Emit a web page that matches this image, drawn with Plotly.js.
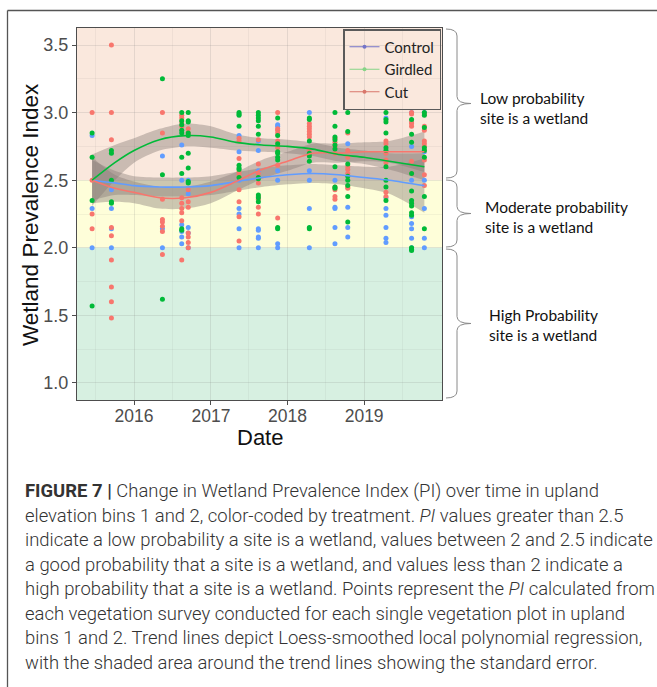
<!DOCTYPE html>
<html><head><meta charset="utf-8">
<script src="https://cdn.plot.ly/plotly-3.0.1.min.js"></script>
<style>html,body{margin:0;padding:0;background:#fff;}#chart{width:657px;height:687px;}</style>
</head><body><div id="chart"></div>
<script>
// ---------- data ----------
const surveyDates = ['2015-06-15','2015-09-15','2016-05-15','2016-08-15','2016-09-15','2017-05-15','2017-08-15',
  '2017-11-15','2018-04-15','2018-08-15','2018-10-15','2019-04-15','2019-08-15','2019-10-15'];

const controlPI = [
  [2.83,2.29,2.0],
  [2.43,2.29,2.14,2.0],
  [2.68,2.14,2.0],
  [2.76,2.50,2.17,2.12,2.08,2.03],
  [2.50,2.40,2.15,2.11,2.0],
  [2.83,2.71,2.50,2.29,2.25,2.14,2.0],
  [2.79,2.72,2.57,2.14,2.13,2.08,2.07,2.0],
  [2.91,2.90,2.57,2.50,2.03,2.0],
  [3.0,2.57,2.50,2.29,2.0],
  [2.50,2.30,2.29,2.15,2.03],
  [2.77,2.30,2.15,2.08],
  [2.96,2.37,2.29,2.24,2.15,2.07,2.04],
  [3.0,2.75,2.50,2.23,2.18,2.14,2.07,2.0],
  [3.0,2.71,2.50,2.29,2.07,2.0]
];
const girdledPI = [
  [2.85,2.67,2.35,1.57],
  [2.72,2.70,2.50,2.34,2.33],
  [3.25,2.54,1.62],
  [3.0,2.94,2.91,2.87,2.85,2.67,2.55,2.14,2.13],
  [3.0,2.94,2.93,2.85,2.83,2.70,2.59,2.49,2.48],
  [3.0,2.99,2.98,2.90,2.61,2.59,2.58,2.52],
  [3.0,2.98,2.96,2.94,2.90,2.84,2.52,2.51,2.39,2.37,2.34],
  [2.96,2.83,2.77,2.71,2.70,2.67,2.65,2.15,2.14],
  [2.96,2.95,2.79,2.70,2.68,2.64,2.15,2.14],
  [3.0,2.90,2.82,2.80,2.76,2.73,2.60,2.45,2.44],
  [3.0,2.86,2.62,2.53,2.50,2.46,2.38,2.19],
  [3.0,2.95,2.93,2.85,2.74,2.72,2.60,2.50,2.45,2.35],
  [2.95,2.84,2.78,2.55,2.42,2.35,2.33,2.31,2.26,2.24,2.0,1.99,1.98],
  [3.0,2.98,2.89,2.74,2.72,2.67,2.38,2.14]
];
const cutPI = [
  [3.0,2.50,2.25,2.14],
  [3.5,3.0,2.80,2.15,2.09,1.91,1.71,1.60,1.48],
  [3.0,2.85,2.36,2.21,2.19,2.16,2.12,1.95],
  [2.98,2.96,2.93,2.90,2.37,2.33,2.29,2.26,2.20,1.91],
  [2.88,2.85,2.43,2.34,2.30,2.11,2.08,2.04,2.0],
  [2.81,2.79,2.66,2.56,2.54,2.43,2.34,2.23,2.05],
  [2.80,2.62,2.55,2.48,2.38,2.36,2.30,2.25],
  [3.0,2.88,2.87,2.85,2.79,2.74,2.61,2.22],
  [2.92,2.90,2.88,2.86,2.84,2.82,2.72],
  [2.81,2.78,2.75,2.70,2.45,2.43,2.38,2.36],
  [2.85,2.72,2.67,2.60,2.58,2.55,2.45,2.44],
  [2.79,2.77,2.70,2.65,2.63,2.41,2.38],
  [3.0,2.99,2.93,2.92,2.90,2.64,2.55],
  [2.99,2.90,2.87,2.79,2.77,2.75,2.72,2.65,2.54,2.46]
];

// Loess fits and standard-error bands
const smoothDates = ['2015-06-15','2015-10-01','2016-01-01','2016-05-01','2016-09-01','2017-01-01','2017-05-01',
  '2017-09-01','2018-01-01','2018-05-01','2018-09-01','2019-01-01','2019-05-01','2019-10-15'];
const girdledFit   = [2.50,2.63,2.72,2.80,2.83,2.82,2.78,2.76,2.75,2.73,2.69,2.67,2.64,2.60];
const girdledLower = [2.31,2.50,2.63,2.72,2.75,2.74,2.72,2.71,2.70,2.68,2.64,2.62,2.58,2.50];
const girdledUpper = [2.69,2.76,2.81,2.88,2.92,2.90,2.84,2.81,2.80,2.78,2.74,2.72,2.70,2.70];
const cutFit   = [2.50,2.44,2.41,2.37,2.37,2.41,2.49,2.58,2.64,2.70,2.70,2.71,2.71,2.71];
const cutLower = [2.33,2.34,2.33,2.29,2.29,2.33,2.42,2.51,2.57,2.63,2.63,2.64,2.63,2.56];
const cutUpper = [2.67,2.54,2.49,2.45,2.45,2.49,2.56,2.65,2.71,2.77,2.77,2.78,2.79,2.86];
const controlFit   = [2.50,2.48,2.46,2.45,2.45,2.46,2.49,2.52,2.54,2.55,2.54,2.52,2.50,2.46];
const controlLower = [2.35,2.39,2.39,2.38,2.38,2.39,2.42,2.45,2.47,2.48,2.47,2.44,2.40,2.26];
const controlUpper = [2.65,2.57,2.53,2.52,2.52,2.53,2.56,2.59,2.61,2.62,2.61,2.60,2.60,2.66];

const treatments = ['Control','Girdled','Cut'];
const yearTicks = ['2016-01-01','2017-01-01','2018-01-01','2019-01-01'];
const yearLabels = ['2016','2017','2018','2019'];
const zoneLabels = ['Low probability<br>site is a wetland','Moderate probability<br>site is a wetland','High Probability<br>site is a wetland'];
const captionLines = [
  '<b>FIGURE 7 |</b> Change in Wetland Prevalence Index (PI) over time in upland',
  'elevation bins 1 and 2, color-coded by treatment. <i>PI</i> values greater than 2.5',
  'indicate a low probability a site is a wetland, values between 2 and 2.5 indicate',
  'a good probability that a site is a wetland, and values less than 2 indicate a',
  'high probability that a site is a wetland. Points represent the <i>PI</i> calculated from',
  'each vegetation survey conducted for each single vegetation plot in upland',
  'bins 1 and 2. Trend lines depict Loess-smoothed local polynomial regression,',
  'with the shaded area around the trend lines showing the standard error.'
];

// ---------- styling / geometry ----------
const W = 657, H = 687, L = 77, R = 442, T = 28, B = 400;
const X = p => (p - L) / (R - L);
const Y = p => (B - p) / (B - T);
const colors = {Control:'#619CFF', Girdled:'#00BA38', Cut:'#F8766D'};
const legendColors = {Control:'#7575c8', Girdled:'#86d486', Cut:'#d9776b'};
const ribbonFill = 'rgba(135,125,120,0.42)';

function flatten(dates, groups){
  const xs=[], ys=[];
  groups.forEach((g,i)=>g.forEach(v=>{xs.push(dates[i]); ys.push(v);}));
  return {xs, ys};
}
const series = {
  Control:{pts:controlPI, fit:controlFit, lo:controlLower, hi:controlUpper},
  Girdled:{pts:girdledPI, fit:girdledFit, lo:girdledLower, hi:girdledUpper},
  Cut:{pts:cutPI, fit:cutFit, lo:cutLower, hi:cutUpper}
};

const traces = [];
['Cut','Control','Girdled'].forEach(k=>{
  const s = series[k];
  traces.push({x: smoothDates, y: s.lo, mode:'lines', line:{width:0, shape:'spline', smoothing:0.8}, hoverinfo:'skip', showlegend:false});
  traces.push({x: smoothDates, y: s.hi, mode:'lines', fill:'tonexty', fillcolor: ribbonFill, line:{width:0, shape:'spline', smoothing:0.8}, hoverinfo:'skip', showlegend:false});
});
['Control','Cut','Girdled'].forEach(k=>{
  const f = flatten(surveyDates, series[k].pts);
  traces.push({x:f.xs, y:f.ys, mode:'markers', marker:{color:colors[k], size:5}, showlegend:false, name:k});
});
['Control','Cut','Girdled'].forEach(k=>{
  traces.push({x:smoothDates, y:series[k].fit, mode:'lines', line:{color:colors[k], width:1.6, shape:'spline', smoothing:0.8}, showlegend:false, name:k});
});
treatments.forEach(k=>{
  traces.push({x:[null], y:[null], name:k, mode:'lines+markers', line:{color:legendColors[k], width:1.2}, marker:{color:legendColors[k], size:4}, showlegend:true});
});

const shapes = [
  {type:'rect', xref:'paper', yref:'y', x0:0, x1:1, y0:2.5, y1:3.626, fillcolor:'#FAE8DD', line:{width:0}, layer:'below'},
  {type:'rect', xref:'paper', yref:'y', x0:0, x1:1, y0:2.0, y1:2.5, fillcolor:'#FEFED9', line:{width:0}, layer:'below'},
  {type:'rect', xref:'paper', yref:'y', x0:0, x1:1, y0:0.874, y1:2.0, fillcolor:'#D7F0E1', line:{width:0}, layer:'below'},
  {type:'line', xref:'paper', yref:'paper', x0:X(7.5), x1:X(657), y0:Y(10.5), y1:Y(10.5), line:{color:'#555', width:1.3}},
  {type:'line', xref:'paper', yref:'paper', x0:X(7.5), x1:X(7.5), y0:Y(10.5), y1:Y(690), line:{color:'#555', width:1.3}}
];
function brace(top, bot, x0, x1, x2){
  const mid = (top+bot)/2, r = 7;
  const P = (x,y)=> X(x).toFixed(5)+','+Y(y).toFixed(5);
  return 'M '+P(x0,top)+' Q '+P(x1,top)+' '+P(x1,top+r)+' L '+P(x1,mid-r)+' Q '+P(x1,mid)+' '+P(x2,mid)+
         ' Q '+P(x1,mid)+' '+P(x1,mid+r)+' L '+P(x1,bot-r)+' Q '+P(x1,bot)+' '+P(x0,bot);
}
[[29,178],[180,247],[249,398]].forEach(b=>{
  shapes.push({type:'path', xref:'paper', yref:'paper', path:brace(b[0],b[1],446,457,471), line:{color:'#8a8a8a', width:1}});
});

const cv = document.createElement('canvas').getContext('2d');
cv.font = '300 100px Roboto';
const refW = cv.measureText(captionLines[2]).width;
const capSize = 100 * 628 / refW;

const annotations = [];
annotations.push({xref:'paper', yref:'paper', x:X(30), y:Y(215), textangle:-90, xanchor:'center', yanchor:'middle', showarrow:false,
  text:'Wetland Prevalence Index', font:{family:'Liberation Sans, Arial, sans-serif', size:22.5, color:'#111'}});
annotations.push({xref:'paper', yref:'paper', x:X(259.5), y:Y(438), xanchor:'center', yanchor:'middle', showarrow:false,
  text:'Date', font:{family:'Liberation Sans, Arial, sans-serif', size:22, color:'#111'}});
const zonePos = [[478,108],[483,216.5],[487,325]];
zoneLabels.forEach((t,i)=>annotations.push({xref:'paper', yref:'paper', x:X(zonePos[i][0]), y:Y(zonePos[i][1]), xanchor:'left', yanchor:'middle', align:'left', showarrow:false, text:t, font:{family:'Lato', size:15.5, color:'#111'}}));
const capTop = 491, capStep = 24.5;
captionLines.forEach((t,i)=>annotations.push({xref:'paper', yref:'paper', x:X(23), y:Y(capTop + i*capStep), xanchor:'left', yanchor:'middle', align:'left', showarrow:false, text:t, font:{family:'Roboto', weight:300, size:capSize, color:'#333'}}));

const layout = {
  width:W, height:H,
  margin:{l:L, r:W-R, t:T, b:H-B, pad:0},
  paper_bgcolor:'#fff', plot_bgcolor:'#fff',
  font:{family:'Liberation Sans, Arial, sans-serif'},
  xaxis:{type:'date', range:['2015-04-04','2020-01-07'], tickmode:'array', tickvals:yearTicks, ticktext:yearLabels,
    ticks:'outside', ticklen:4, tickcolor:'#4d4d4d', tickfont:{size:17.5, color:'#4d4d4d'}, ticklabelstandoff:-4,
    showline:true, mirror:true, linecolor:'#4d4d4d', linewidth:1, zeroline:false,
    showgrid:true, gridcolor:'rgba(120,120,120,0.16)', gridwidth:1,
    minor:{dtick:'M12', tick0:'2015-07-01', showgrid:true, gridcolor:'rgba(120,120,120,0.11)', gridwidth:0.7}},
  yaxis:{range:[0.874,3.626], dtick:0.5, tick0:1, tickformat:'.1f',
    ticks:'outside', ticklen:4, tickcolor:'#4d4d4d', tickfont:{size:18, color:'#4d4d4d'},
    showline:true, mirror:true, linecolor:'#4d4d4d', linewidth:1, zeroline:false,
    showgrid:true, gridcolor:'rgba(120,120,120,0.16)', gridwidth:1,
    minor:{dtick:0.25, tick0:0.75, showgrid:true, gridcolor:'rgba(120,120,120,0.11)', gridwidth:0.7}},
  showlegend:true,
  legend:{x:X(343), y:Y(29), xanchor:'left', yanchor:'top', traceorder:'normal', bgcolor:'rgba(0,0,0,0)', bordercolor:'#5a5a5a', borderwidth:1.5,
    font:{family:'Lato', size:15, color:'#222'}, itemwidth:30},
  shapes:shapes,
  annotations:annotations
};
Plotly.newPlot('chart', traces, layout, {displayModeBar:false, staticPlot:true});
</script></body></html>
